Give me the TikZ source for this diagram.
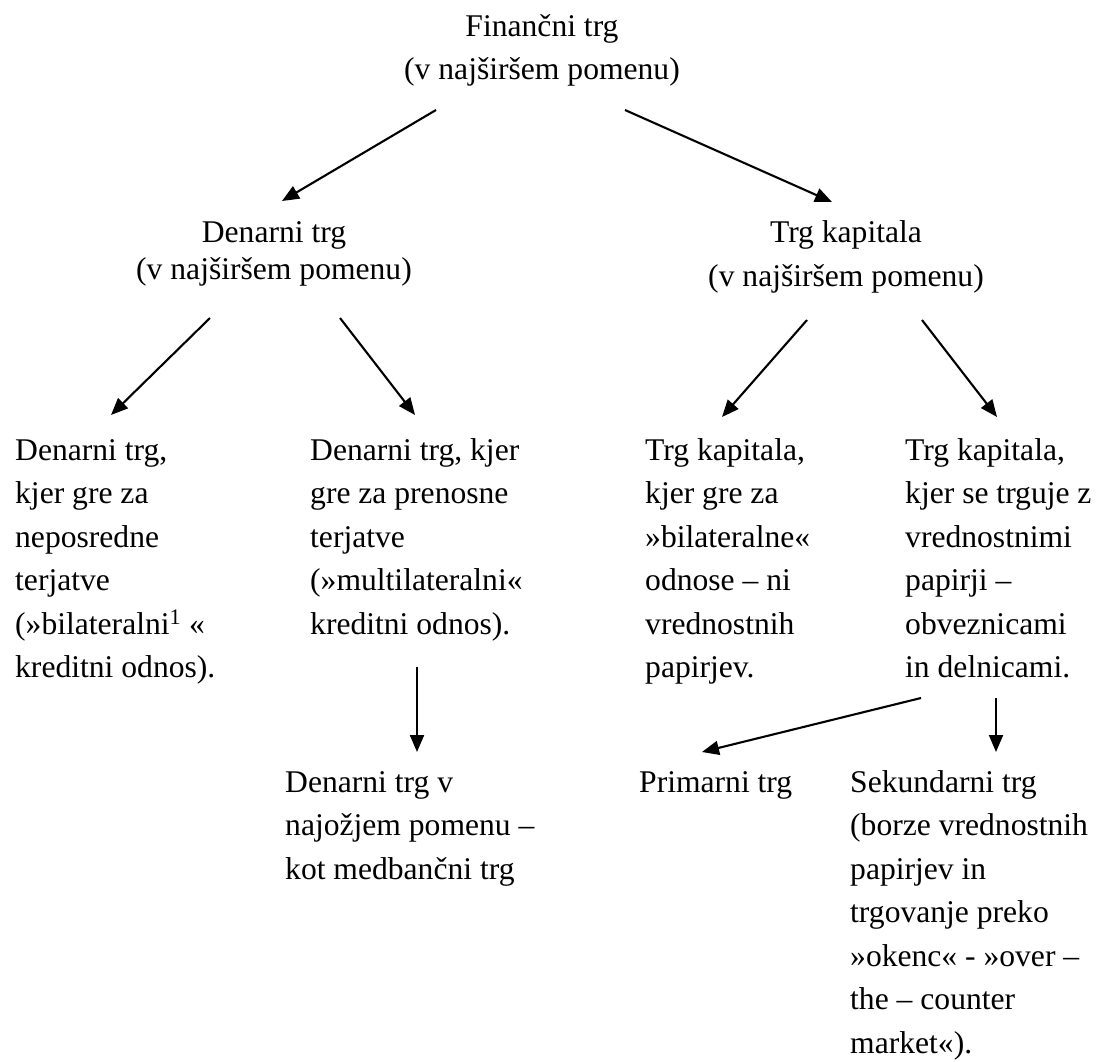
\documentclass[tikz,border=0pt]{standalone}
\usepackage{fontspec}
\setmainfont{Liberation Serif}
\usetikzlibrary{arrows.meta}
\begin{document}
\begin{tikzpicture}[x=1pt,y=-1pt,
  txt/.style={inner sep=0pt, font=\fontsize{31.6}{43.5}\selectfont},
  arr/.style={line width=2.1pt, -{Triangle[length=17pt,width=14pt]}}]
\useasboundingbox (0,0) rectangle (1100,1062);
% heads
\node[txt, anchor=base] (fin) at (542,37) {\begin{tabular}[t]{@{}c@{}}Finančni trg\\[-0.5pt](v najširšem pomenu)\end{tabular}};
\node[txt, anchor=base] (den) at (274,242) {\begin{tabular}[t]{@{}c@{}}Denarni trg\\[-6.5pt](v najširšem pomenu)\end{tabular}};
\node[txt, anchor=base] (kap) at (846,242) {\begin{tabular}[t]{@{}c@{}}Trg kapitala\\[0.5pt](v najširšem pomenu)\end{tabular}};
% columns
\node[txt, anchor=base west] (c1) at (15,460) {\begin{tabular}[t]{@{}l@{}}Denarni trg,\\kjer gre za\\neposredne\\terjatve\\(»bilateralni\textsuperscript{1} «\\kreditni odnos).\end{tabular}};
\node[txt, anchor=base west] (c2) at (310,460) {\begin{tabular}[t]{@{}l@{}}Denarni trg, kjer\\gre za prenosne\\terjatve\\(»multilateralni«\\kreditni odnos).\end{tabular}};
\node[txt, anchor=base west] (c3) at (645,460) {\begin{tabular}[t]{@{}l@{}}Trg kapitala,\\kjer gre za\\»bilateralne«\\odnose – ni\\vrednostnih\\papirjev.\end{tabular}};
\node[txt, anchor=base west] (c4) at (905,460) {\begin{tabular}[t]{@{}l@{}}Trg kapitala,\\kjer se trguje z\\vrednostnimi\\papirji –\\obveznicami\\in delnicami.\end{tabular}};
% bottom
\node[txt, anchor=base west] (dn) at (285,792) {\begin{tabular}[t]{@{}l@{}}Denarni trg v\\najožjem pomenu –\\kot medbančni trg\end{tabular}};
\node[txt, anchor=base west] (prim) at (639,792) {Primarni trg};
\node[txt, anchor=base west] (sek) at (850,792) {\begin{tabular}[t]{@{}l@{}}Sekundarni trg\\(borze vrednostnih\\papirjev in\\trgovanje preko\\»okenc« - »over –\\the – counter\\market«).\end{tabular}};
% arrow endpoints
\coordinate (finL) at (436,110);  \coordinate (denT) at (282,201);
\coordinate (finR) at (625,110);  \coordinate (kapT) at (832,202);
\coordinate (denL) at (210,318);  \coordinate (c1T) at (111,415);
\coordinate (denR) at (340,318);  \coordinate (c2T) at (415,415);
\coordinate (kapL) at (807,320);  \coordinate (c3T) at (722,417);
\coordinate (kapR) at (922,320);  \coordinate (c4T) at (997,417);
\coordinate (c2B) at (417,667);   \coordinate (dnT) at (417,752);
\coordinate (c4BL) at (921,698);  \coordinate (primT) at (702,752);
\coordinate (c4BR) at (996,698);  \coordinate (sekT) at (996,752);
\draw[arr] (finL) -- (denT);
\draw[arr] (finR) -- (kapT);
\draw[arr] (denL) -- (c1T);
\draw[arr] (denR) -- (c2T);
\draw[arr] (kapL) -- (c3T);
\draw[arr] (kapR) -- (c4T);
\draw[arr] (c2B) -- (dnT);
\draw[arr] (c4BL) -- (primT);
\draw[arr] (c4BR) -- (sekT);
\end{tikzpicture}
\end{document}
